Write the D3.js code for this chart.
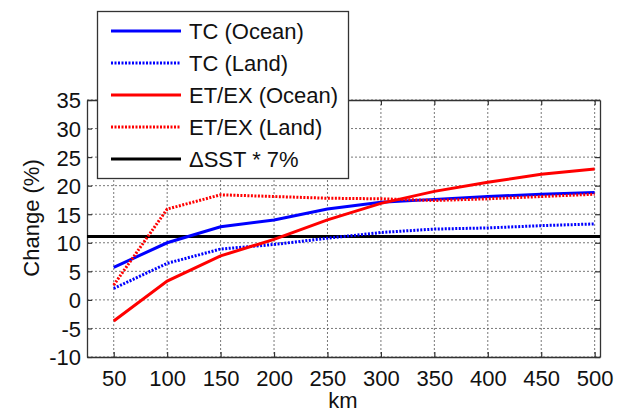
<!DOCTYPE html>
<html><head><meta charset="utf-8">
<script src="https://cdn.jsdelivr.net/npm/d3@7"></script>
<style>
body{margin:0;background:#fff;}
text{font-family:"Liberation Sans",Arial,sans-serif;}
</style></head>
<body><svg id="c" width="624" height="413"></svg>
<script>
const km = [50,100,150,200,250,300,350,400,450,500];
const tcOcean = [5.7,10.0,12.8,14.0,15.9,17.1,17.6,18.1,18.5,18.8];
const tcLand = [2.0,6.4,8.9,9.7,10.8,11.8,12.4,12.6,13.0,13.3];
const etOcean = [-3.7,3.3,7.7,10.6,14.0,16.9,19.0,20.6,22.0,22.9];
const etLand = [2.6,15.9,18.4,18.1,17.8,17.7,17.4,17.7,18.1,18.5];
const sstRef = 11.1;
const xTicks = [50,100,150,200,250,300,350,400,450,500];
const yTicks = [-10,-5,0,5,10,15,20,25,30,35];
const seriesNames = ["TC (Ocean)","TC (Land)","ET/EX (Ocean)","ET/EX (Land)","\u0394SST * 7%"];

const FS = 22;
const svg = d3.select("#c");
const L=87,R=600,T=100,B=357;
const x = d3.scaleLinear().domain([25,505]).range([L,R]);
const y = d3.scaleLinear().domain([-10,35]).range([B,T]);

// grid
const g = svg.append("g");
g.selectAll(".gx").data(xTicks).join("line")
 .attr("x1",d=>x(d)).attr("x2",d=>x(d)).attr("y1",T).attr("y2",B)
 .attr("stroke","#555").attr("stroke-width",0.8).attr("stroke-dasharray","2,2");
g.selectAll(".gy").data(yTicks).join("line")
 .attr("y1",d=>y(d)).attr("y2",d=>y(d)).attr("x1",L).attr("x2",R)
 .attr("stroke","#555").attr("stroke-width",0.8).attr("stroke-dasharray","2,2");

// axes
const fmt = d=>String(d);
const ax = svg.append("g").attr("transform",`translate(0,${B})`)
 .call(d3.axisBottom(x).tickValues(xTicks).tickFormat(fmt).tickSizeInner(-5).tickSizeOuter(0).tickPadding(13));
const ay = svg.append("g").attr("transform",`translate(${L},0)`)
 .call(d3.axisLeft(y).tickValues(yTicks).tickFormat(fmt).tickSizeInner(-5).tickSizeOuter(0).tickPadding(6));
svg.append("g").attr("transform",`translate(${R},0)`)
 .call(d3.axisRight(y).tickValues(yTicks).tickSizeInner(-5).tickSizeOuter(0).tickFormat(""));
svg.append("g").attr("transform",`translate(0,${T})`)
 .call(d3.axisTop(x).tickValues(xTicks).tickSizeInner(-5).tickSizeOuter(0).tickFormat(""));
svg.selectAll(".domain").attr("stroke","#333").attr("stroke-width",1.3);
svg.selectAll(".tick line").attr("stroke","#333").attr("stroke-width",1.2);
svg.selectAll(".tick text").attr("font-size",FS).attr("fill","#111")
 .attr("font-family","'Liberation Sans',Arial,sans-serif");
ax.selectAll(".tick text").attr("dy","0.71em");
ay.selectAll(".tick text").attr("dy","0.36em");

svg.append("text").attr("x",343).attr("y",408).attr("text-anchor","middle")
 .attr("font-size",FS).attr("fill","#111").text("km");
svg.append("text").attr("transform","translate(39,218) rotate(-90)").attr("text-anchor","middle")
 .attr("font-size",FS).attr("fill","#111").text("Change (%)");

// lines
const line = d3.line().x((d,i)=>x(km[i])).y(d=>y(d));
const plot = svg.append("g");
const styles = [
 {data:tcOcean,color:"#0000ff",dash:null},
 {data:tcLand,color:"#0000ff",dash:"2,1.5"},
 {data:etOcean,color:"#ff0000",dash:null},
 {data:etLand,color:"#ff0000",dash:"2,1.5"}
];
plot.append("line").attr("x1",L).attr("x2",R).attr("y1",y(sstRef)).attr("y2",y(sstRef))
 .attr("stroke","#000").attr("stroke-width",3);
styles.forEach(s=>{
 plot.append("path").datum(s.data).attr("d",line).attr("fill","none")
  .attr("stroke",s.color).attr("stroke-width",3).attr("stroke-dasharray",s.dash);
});

// legend
const lg = svg.append("g");
lg.append("rect").attr("x",97.5).attr("y",11.5).attr("width",251).attr("height",167)
 .attr("fill","#fff").attr("stroke","#333").attr("stroke-width",1.3);
const legStyles = [...styles.map(s=>({color:s.color,dash:s.dash})),{color:"#000",dash:null}];
seriesNames.forEach((n,i)=>{
 const yy = 31 + i*32;
 lg.append("line").attr("x1",111).attr("x2",181).attr("y1",yy).attr("y2",yy)
  .attr("stroke",legStyles[i].color).attr("stroke-width",3).attr("stroke-dasharray",legStyles[i].dash);
 lg.append("text").attr("x",189).attr("y",yy+8).attr("font-size",FS).attr("fill","#111").text(n);
});
</script></body></html>
